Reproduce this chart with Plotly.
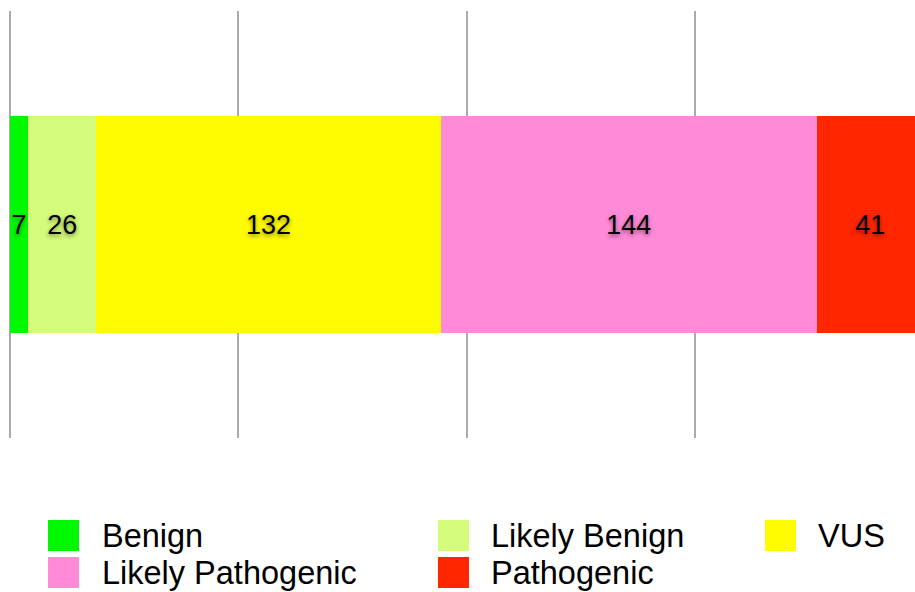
import plotly.graph_objects as go

# Variant classification counts (single stacked bar)
categories = ["Benign", "Likely Benign", "VUS", "Likely Pathogenic", "Pathogenic"]
counts = [7, 26, 132, 144, 41]
colors = ["#00F900", "#D4FB79", "#FFFB00", "#FF8AD8", "#FF2600"]

# Figure geometry (pixels)
W, H = 915, 592
M_L, M_R, M_T, M_B = 10, 0, 11, 154
PLOT_W = W - M_L - M_R
PLOT_H = H - M_T - M_B
PX_PER_UNIT = 2.611
GRID_STEP = 87.5

# Legend layout: (column, row) per category, and pixel anchors
legend_cells = [(0, 0), (1, 0), (2, 0), (0, 1), (1, 1)]
col_swatch_x = [48, 438, 765]
col_text_x = [100, 489, 816]
row_center_y = [535.5, 572.5]
SWATCH = 31


def px_x(px):
    return (px - M_L) / PLOT_W


def px_y(py):
    return (H - M_B - py) / PLOT_H


fig = go.Figure()
for name, val, col in zip(categories, counts, colors):
    fig.add_trace(go.Bar(
        x=[val], y=[0], orientation="h", name=name,
        marker=dict(color=col, line=dict(width=0)),
        text=[str(val)], textposition="inside", insidetextanchor="middle",
        constraintext="none",
        textfont=dict(family="Liberation Sans, Arial, sans-serif", size=27,
                      color="#000000", shadow="0px 2px 4px rgba(0,0,0,0.45)"),
        showlegend=False, hoverinfo="skip",
    ))

shapes = []
annotations = []
for name, col, (c, r) in zip(categories, colors, legend_cells):
    cy = row_center_y[r]
    shapes.append(dict(
        type="rect", xref="paper", yref="paper",
        x0=px_x(col_swatch_x[c]), x1=px_x(col_swatch_x[c] + SWATCH),
        y0=px_y(cy + SWATCH / 2), y1=px_y(cy - SWATCH / 2),
        fillcolor=col, line=dict(width=0),
    ))
    annotations.append(dict(
        xref="paper", yref="paper", x=px_x(col_text_x[c]), y=px_y(cy),
        xanchor="left", yanchor="middle", showarrow=False, text=name,
        font=dict(family="Liberation Sans, Arial, sans-serif", size=32.5, color="#000000"),
    ))

fig.update_layout(
    width=W, height=H, barmode="stack", bargap=0.492,
    margin=dict(l=M_L, r=M_R, t=M_T, b=M_B, pad=0),
    paper_bgcolor="white", plot_bgcolor="white",
    xaxis=dict(range=[0, PLOT_W / PX_PER_UNIT], dtick=GRID_STEP, tick0=0,
               showgrid=True, gridcolor="#ABABAB", gridwidth=2,
               zeroline=True, zerolinecolor="#ABABAB", zerolinewidth=2,
               showticklabels=False, ticks="", showline=False, fixedrange=True),
    yaxis=dict(range=[-0.5, 0.5], showgrid=False, zeroline=False,
               showticklabels=False, ticks="", showline=False, fixedrange=True),
    shapes=shapes, annotations=annotations, showlegend=False,
)

fig.write_html("out.html")
